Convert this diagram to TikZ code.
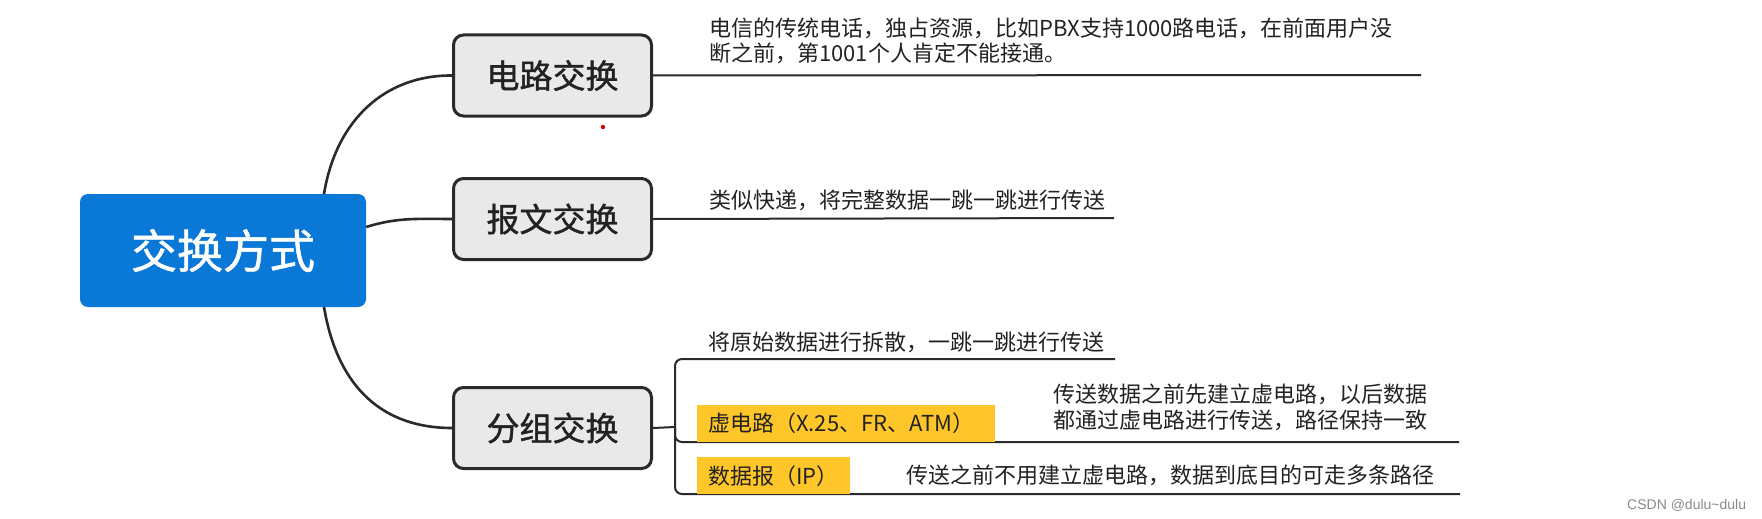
\documentclass[tikz,border=0pt]{standalone}
\usepackage{fontspec}
\newfontfamily\cjk{Noto Sans CJK SC}
\newfontfamily\cjkm[FakeBold=1.2]{Noto Sans CJK SC}
\newfontfamily\wmfont{Liberation Sans}
\definecolor{mainblue}{HTML}{0A78D6}
\definecolor{boxgray}{HTML}{E9E9E9}
\definecolor{linedark}{HTML}{2A2A2A}
\definecolor{hlyellow}{HTML}{FFC62A}
\definecolor{txtdark}{HTML}{222222}
\definecolor{wmgray}{HTML}{8A8A8A}
\tikzset{
  mainbox/.style={fill=mainblue, rounded corners=8, minimum width=286, minimum height=113, inner sep=0,
    text=white, font=\cjkm\fontsize{46}{50}\selectfont},
  subbox/.style={draw=linedark, line width=3, fill=boxgray, rounded corners=10, minimum width=198, minimum height=81,
    inner sep=0, text=txtdark, font=\cjkm\fontsize{33}{36}\selectfont},
  conn/.style={draw=linedark, line width=2.6},
  uline/.style={draw=linedark, line width=2},
  desc/.style={anchor=west, inner sep=0, text=txtdark, align=left, font=\cjk\fontsize{22}{26}\selectfont},
  hl/.style={fill=hlyellow, inner xsep=11, inner ysep=0, minimum height=37, align=left, anchor=north west,
    text=txtdark, font=\cjk\fontsize{22}{26}\selectfont}
}
\begin{document}
\begin{tikzpicture}[x=1pt,y=-1pt]
\useasboundingbox (0,0) rectangle (1762,519);
\fill[white] (0,0) rectangle (1762,519);

% main and branch nodes
\node[mainbox] (main) at (223,250.5) {交换方式};
\node[subbox] (c1) at (552.5,75.5) {电路交换};
\node[subbox] (c2) at (552.5,219) {报文交换};
\node[subbox] (c3) at (552.5,428) {分组交换};

% connectors from main node
\coordinate (mtop) at (324,194);
\coordinate (mbot) at (324,307);
\draw[conn] (mtop) .. controls (336,120) and (385,75) .. (c1.west);
\draw[conn] (main.east |- 0,227) .. controls (398,217) and (420,219) .. (c2.west);
\draw[conn] (mbot) .. controls (338,390) and (385,428) .. (c3.west);

% 电路交换 description
\coordinate (e1) at (1421,75);
\draw[uline] (c1.east) -- (e1);
\node[desc, font=\cjk\fontsize{22}{25}\selectfont] (t1) at (709,40.5) {电信的传统电话，独占资源，比如PBX支持1000路电话，在前面用户没\\断之前，第1001个人肯定不能接通。};

% 报文交换 description
\coordinate (e2) at (1114,218);
\draw[uline] (c2.east) -- (e2);
\node[desc] (t2) at (709,200) {类似快递，将完整数据一跳一跳进行传送};

% 分组交换 structure
\coordinate (bj) at (675,427);
\coordinate (btop) at (1115,359);
\coordinate (bmid) at (1459,442);
\coordinate (bbot) at (1460,494);
\draw[uline] (c3.east) -- (bj);
\draw[uline, rounded corners=7] (btop) -- (675,359) -- (675,494) -- (bbot);
\draw[uline, rounded corners=7] (675,428) |- (bmid);
\node[desc] (t3) at (708,342) {将原始数据进行拆散，一跳一跳进行传送};

\node[hl, minimum width=298, text width=276] (vc) at (697,404.5) {虚电路（X.25、FR、ATM）};
\node[desc] (t4) at (1053,407) {传送数据之前先建立虚电路，以后数据\\都通过虚电路进行传送，路径保持一致};

\node[hl, minimum width=153, text width=131] (dg) at (697,457) {数据报（IP）};
\node[desc] (t5) at (906,475) {传送之前不用建立虚电路，数据到底目的可走多条路径};

% red dot
\fill[red!85!black] (603,127) circle (2.2);

% watermark
\node[anchor=west, inner sep=0, text=wmgray, font=\wmfont\fontsize{14}{16}\selectfont] (wm) at (1627,505) {CSDN @dulu\textasciitilde dulu};
\end{tikzpicture}
\end{document}
